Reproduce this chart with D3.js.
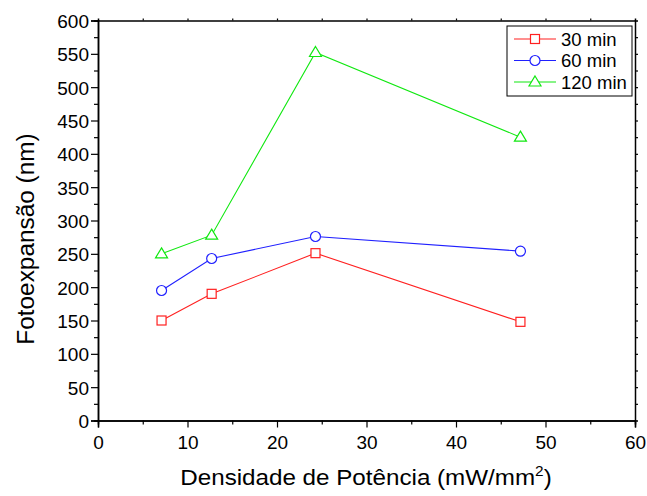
<!DOCTYPE html>
<html><head><meta charset="utf-8">
<script src="https://cdn.jsdelivr.net/npm/d3@7"></script>
<style>body{margin:0;background:#fff}svg{display:block}</style>
</head><body><svg id="c" width="647" height="496"></svg>
<script>
const xValues = [7.1, 12.7, 24.3, 47.2];
const series30 = [150, 190, 251, 148];
const series60 = [195, 243, 276, 254];
const series120 = [250, 278, 552, 425];
const seriesNames = ["30 min", "60 min", "120 min"];
const xTicks = [0, 10, 20, 30, 40, 50, 60];
const yTicks = [0, 50, 100, 150, 200, 250, 300, 350, 400, 450, 500, 550, 600];

const svg = d3.select("#c");
const L = 98, R = 635, T = 20.5, B = 420.5;
const x = d3.scaleLinear().domain([0, 60]).range([L, R]);
const y = d3.scaleLinear().domain([0, 600]).range([B, T]);
const font = "Liberation Sans, Arial, sans-serif";

const g = svg.append("g");
const xAxis = g.append("g").attr("transform", `translate(0,${B})`)
  .call(d3.axisBottom(x).tickValues(xTicks).tickSize(7).tickPadding(4));
const xMinor = g.append("g").attr("transform", `translate(0,${B})`)
  .call(d3.axisBottom(x).tickValues(d3.range(5, 60, 10)).tickSize(4).tickFormat(""));
const yAxis = g.append("g").attr("transform", `translate(${L},0)`)
  .call(d3.axisLeft(y).tickValues(yTicks).tickSize(7).tickPadding(2));
const yMinor = g.append("g").attr("transform", `translate(${L},0)`)
  .call(d3.axisLeft(y).tickValues(d3.range(25, 600, 50)).tickSize(4).tickFormat(""));
const xTop = g.append("g").attr("transform", `translate(0,${T})`)
  .call(d3.axisTop(x).tickValues(d3.range(5, 60, 5)).tickSize(2).tickFormat(""));
const yRight = g.append("g").attr("transform", `translate(${R},0)`)
  .call(d3.axisRight(y).tickValues(d3.range(25, 600, 25)).tickSize(3).tickFormat(""));
[xAxis, xMinor, yAxis, yMinor, xTop, yRight].forEach(a => {
  a.select(".domain").attr("stroke", "#000").attr("stroke-width", 1.5);
  a.selectAll(".tick line").attr("stroke", "#000").attr("stroke-width", 1.2);
  a.selectAll("text").attr("font-family", font).attr("font-size", 19).attr("fill", "#000");
});
xAxis.selectAll("text").attr("y", 28.5).attr("dy", 0);
yAxis.selectAll("text").attr("dy", "0.36em");

const data = [
  {name: seriesNames[0], vals: series30, color: "#ff2020", shape: "square"},
  {name: seriesNames[1], vals: series60, color: "#2020ff", shape: "circle"},
  {name: seriesNames[2], vals: series120, color: "#10e810", shape: "triangle"}
];
function marker(sel, shape, color, cx, cy) {
  if (shape === "square") sel.append("rect").attr("x", cx - 4.5).attr("y", cy - 4.5).attr("width", 9).attr("height", 9);
  else if (shape === "circle") sel.append("circle").attr("cx", cx).attr("cy", cy).attr("r", 5);
  else sel.append("path").attr("d", `M${cx},${cy - 6}L${cx + 6},${cy + 4}L${cx - 6},${cy + 4}Z`);
  sel.selectAll(":scope > :last-child").attr("fill", "#fff").attr("stroke", color).attr("stroke-width", 1.2);
}
const line = d3.line().x((d, i) => x(xValues[i])).y(d => y(d));
data.forEach(s => {
  g.append("path").attr("d", line(s.vals)).attr("fill", "none").attr("stroke", s.color).attr("stroke-width", 1.1);
  const mg = g.append("g");
  s.vals.forEach((v, i) => marker(mg, s.shape, s.color, x(xValues[i]), y(v)));
});

const lg = g.append("g");
lg.append("rect").attr("x", 507).attr("y", 26).attr("width", 125).attr("height", 70)
  .attr("fill", "#fff").attr("stroke", "#000").attr("stroke-width", 1);
data.forEach((s, i) => {
  const yy = 39 + i * 21.5;
  lg.append("line").attr("x1", 514).attr("x2", 556).attr("y1", yy).attr("y2", yy).attr("stroke", s.color).attr("stroke-width", 1.1);
  marker(lg, s.shape, s.color, 535, yy);
  lg.append("text").attr("x", 561).attr("y", yy + 6.5).attr("font-family", font).attr("font-size", 18.5).text(s.name);
});

const xl = svg.append("text").attr("transform", "translate(366,485) scale(1.1,1)").attr("text-anchor", "middle")
  .attr("font-family", font).attr("font-size", 22);
xl.append("tspan").text("Densidade de Potência (mW/mm");
xl.append("tspan").attr("dy", -9).attr("font-size", 14).text("2");
xl.append("tspan").attr("dy", 9).text(")");
svg.append("text").attr("transform", `translate(33.5,239) rotate(-90) scale(1.06,1)`).attr("text-anchor", "middle")
  .attr("font-family", font).attr("font-size", 23).text("Fotoexpansão (nm)");
</script></body></html>
